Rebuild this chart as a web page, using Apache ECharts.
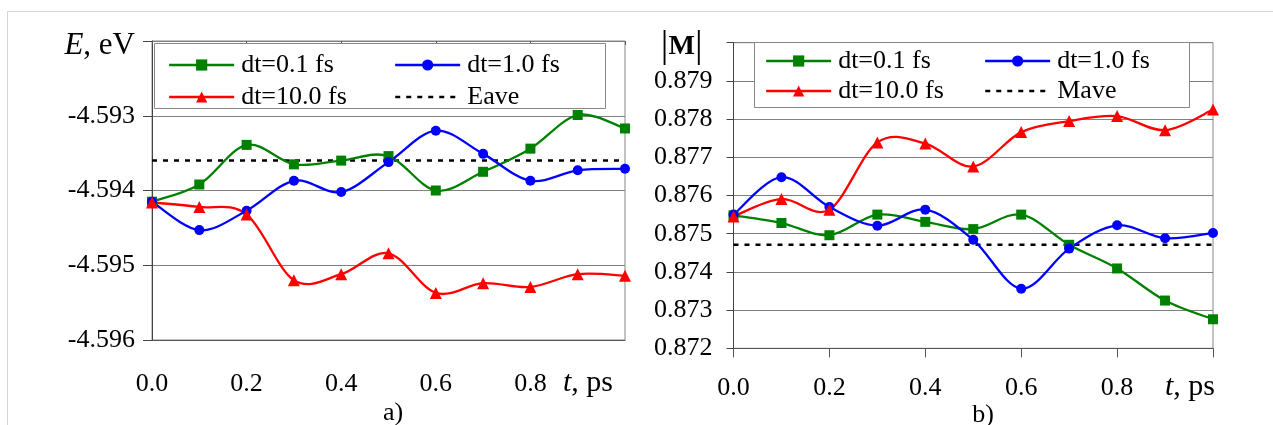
<!DOCTYPE html>
<html>
<head>
<meta charset="utf-8">
<script src="https://cdn.jsdelivr.net/npm/echarts@6/dist/echarts.min.js"></script>
<style>
html,body{margin:0;padding:0;background:#fff;}
#c{width:1273px;height:425px;}
</style>
</head>
<body>
<div id="c"></div>
<script>
// ---- data ----
var tValues = [0.0, 0.1, 0.2, 0.3, 0.4, 0.5, 0.6, 0.7, 0.8, 0.9, 1.0];
var xTickLabels = ['0.0', '0.2', '0.4', '0.6', '0.8'];
var seriesNames = ['dt=0.1 fs', 'dt=1.0 fs', 'dt=10.0 fs'];

// panel a) energy, eV
var E_dt01  = [-4.59415, -4.59392, -4.59339, -4.59365, -4.59360, -4.59354, -4.59400, -4.59375, -4.59344, -4.59299, -4.59317];
var E_dt10  = [-4.59415, -4.59453, -4.59427, -4.59387, -4.59402, -4.59362, -4.59320, -4.59351, -4.59387, -4.59373, -4.59371];
var E_dt100 = [-4.59416, -4.59422, -4.59432, -4.59520, -4.59512, -4.59484, -4.59537, -4.59524, -4.59529, -4.59512, -4.59514];
var Eave = -4.59360;
var E_ticks = ['-4.596', '-4.595', '-4.594', '-4.593'];

// panel b) |M|
var M_dt01  = [0.87548, 0.87528, 0.87496, 0.87550, 0.87531, 0.87512, 0.87550, 0.87471, 0.87409, 0.87325, 0.87276];
var M_dt10  = [0.87550, 0.87648, 0.87570, 0.87521, 0.87563, 0.87484, 0.87356, 0.87461, 0.87522, 0.87488, 0.87502];
var M_dt100 = [0.87545, 0.87591, 0.87563, 0.87739, 0.87736, 0.87676, 0.87766, 0.87795, 0.87808, 0.87771, 0.87825];
var Mave = 0.87471;
var M_ticks = ['0.872', '0.873', '0.874', '0.875', '0.876', '0.877', '0.878', '0.879'];

// ---- helpers ----
var FONT = 'Liberation Serif';
var COLORS = ['#008000', '#0000ff', '#ff0000'];
var SYMBOLS = ['rect', 'circle', 'triangle'];
var SIZES = [10, 10, 12];
var LW = 2.3;

function pairs(vals) { return vals.map(function (v, i) { return [tValues[i], v]; }); }

// marker series (also used for the legend)
function markers(name, vals, k, xi, yi) {
  return {
    type: 'line', name: name, xAxisIndex: xi, yAxisIndex: yi,
    data: pairs(vals),
    symbol: SYMBOLS[k], symbolSize: SIZES[k], showSymbol: true,
    itemStyle: { color: COLORS[k] },
    lineStyle: { color: COLORS[k], width: 0, opacity: 0 },
    z: 6, animation: false
  };
}
// smooth curve (Catmull-Rom style, like spreadsheet smoothing) through the axis scales
function smoothCurve(name, vals, k, xi, yi) {
  var data = pairs(vals);
  return {
    type: 'custom', name: name + ' curve', xAxisIndex: xi, yAxisIndex: yi,
    data: data, z: 5, animation: false, silent: true,
    renderItem: function (params, api) {
      if (params.dataIndex !== 0) return null;
      var p = data.map(function (d) { return api.coord(d); });
      var n = p.length;
      var s = 'M' + p[0][0] + ' ' + p[0][1];
      for (var i = 0; i < n - 1; i++) {
        var p0 = p[Math.max(i - 1, 0)], p1 = p[i], p2 = p[i + 1], p3 = p[Math.min(i + 2, n - 1)];
        var c1x = p1[0] + (p2[0] - p0[0]) / 6, c1y = p1[1] + (p2[1] - p0[1]) / 6;
        var c2x = p2[0] - (p3[0] - p1[0]) / 6, c2y = p2[1] - (p3[1] - p1[1]) / 6;
        s += ' C' + c1x + ' ' + c1y + ' ' + c2x + ' ' + c2y + ' ' + p2[0] + ' ' + p2[1];
      }
      return { type: 'path', shape: { pathData: s }, style: { stroke: COLORS[k], lineWidth: LW, fill: 'none' } };
    }
  };
}
function aveLine(name, v, xi, yi) {
  return {
    type: 'line', name: name, xAxisIndex: xi, yAxisIndex: yi,
    data: [[tValues[0], v], [tValues[tValues.length - 1], v]],
    symbol: 'none', itemStyle: { color: '#000' },
    lineStyle: { color: '#000', width: 2.5, type: [5, 6] },
    z: 4, animation: false
  };
}
function findTick(list, v) {
  for (var i = 0; i < list.length; i++) { if (Math.abs(parseFloat(list[i]) - v) < 1e-7) return list[i]; }
  return null;
}
var labelStyle = { fontFamily: FONT, fontSize: 26, color: '#000' };

function legendItem(name, left, top, isAve) {
  return {
    data: [name], left: left, top: top, orient: 'horizontal', padding: 0,
    itemWidth: 65, itemHeight: 14, itemGap: 0,
    lineStyle: isAve ? { width: 2.5, opacity: 1 } : { width: LW, opacity: 1 },
    itemStyle: isAve ? { opacity: 0 } : {},
    textStyle: { fontFamily: FONT, fontSize: 26, color: '#000', padding: [0, 0, 0, 2] },
    selectedMode: false, z: 10
  };
}
var nameRich = {
  i: { fontFamily: FONT, fontSize: 30, fontStyle: 'italic', color: '#000' },
  n: { fontFamily: FONT, fontSize: 30, color: '#000' }
};

var option = {
  animation: false,
  backgroundColor: '#fff',
  grid: [
    { left: 152, top: 41, width: 473, height: 299, show: true, borderColor: '#888', borderWidth: 1, containLabel: false },
    { left: 733.5, top: 42.7, width: 479.5, height: 305.6, show: true, borderColor: '#888', borderWidth: 1, containLabel: false }
  ],
  title: [
    { text: 'a)', left: 388, top: 395, textAlign: 'center', textStyle: { fontFamily: FONT, fontSize: 26, fontWeight: 'normal', color: '#000' } },
    { text: 'b)', left: 978, top: 397, textAlign: 'center', textStyle: { fontFamily: FONT, fontSize: 26, fontWeight: 'normal', color: '#000' } }
  ],
  xAxis: [
    {
      type: 'value', gridIndex: 0, min: 0, max: 1, interval: 0.2,
      axisLine: { show: true, lineStyle: { color: '#555', width: 1 } },
      axisTick: { show: false },
      splitLine: { show: false },
      axisLabel: Object.assign({ margin: 31, formatter: function (v) { return findTick(xTickLabels, v) || ''; } }, labelStyle),
      name: '{i|t}{n|, ps}', nameLocation: 'end', nameGap: -12,
      nameTextStyle: { align: 'right', verticalAlign: 'top', padding: [28, 0, 0, 0], rich: nameRich }
    },
    {
      type: 'value', gridIndex: 0, min: 0, max: 1, interval: 0.2, position: 'top',
      axisLine: { show: false }, axisLabel: { show: false }, splitLine: { show: false },
      axisTick: { show: true, inside: true, length: 4, lineStyle: { color: '#555' } }
    },
    {
      type: 'value', gridIndex: 1, min: 0, max: 1, interval: 0.2,
      axisLine: { show: true, lineStyle: { color: '#555', width: 1 } },
      axisTick: { show: true, inside: false, length: 9, lineStyle: { color: '#555' } },
      splitLine: { show: false },
      axisLabel: Object.assign({ margin: 27, formatter: function (v) { return findTick(xTickLabels, v) || ''; } }, labelStyle),
      name: '{i|t}{n|, ps}', nameLocation: 'end', nameGap: 2,
      nameTextStyle: { align: 'right', verticalAlign: 'top', padding: [24, 0, 0, 0], rich: nameRich }
    }
  ],
  yAxis: [
    {
      type: 'value', gridIndex: 0, min: -4.596, max: -4.592, interval: 0.001,
      axisLine: { show: true, lineStyle: { color: '#444', width: 1 } },
      axisTick: { show: true, inside: false, length: 9, lineStyle: { color: '#444' } },
      splitLine: { show: true, lineStyle: { color: '#808080', width: 1 } },
      axisLabel: Object.assign({ margin: 17, formatter: function (v) {
        var t = findTick(E_ticks, v);
        if (t) return t;
        if (Math.abs(v + 4.592) < 1e-7) return '{e|E}{n|, eV}';
        return '';
      }, rich: {
        e: { fontFamily: FONT, fontSize: 31, fontStyle: 'italic', color: '#000', padding: [10, 0, 0, 0] },
        n: { fontFamily: FONT, fontSize: 31, color: '#000', padding: [10, 0, 0, 0] }
      } }, labelStyle)
    },
    {
      type: 'value', gridIndex: 1, min: 0.872, max: 0.880, interval: 0.001,
      axisLine: { show: true, lineStyle: { color: '#444', width: 1 } },
      axisTick: { show: true, inside: false, length: 7, lineStyle: { color: '#444' } },
      splitLine: { show: true, lineStyle: { color: '#808080', width: 1 } },
      axisLabel: Object.assign({ margin: 21, formatter: function (v) {
        var t = findTick(M_ticks, v);
        if (t) return t;
        if (Math.abs(v - 0.880) < 1e-7) return '{b||}{m|M}{b||}{p|}';
        return '';
      }, rich: {
        b: { fontFamily: FONT, fontSize: 38, color: '#000', padding: [8, 0, 0, 0] },
        m: { fontFamily: FONT, fontSize: 28, fontWeight: 'bold', color: '#000', padding: [8, 0, 0, 0] },
        p: { width: 10 }
      } }, labelStyle)
    }
  ],
  legend: [
    legendItem(seriesNames[0], 168, 52),
    legendItem(seriesNames[1], 394, 52),
    legendItem(seriesNames[2], 168, 84),
    legendItem('Eave', 394, 84, true),
    legendItem(seriesNames[0], 765, 48),
    legendItem(seriesNames[1], 984, 48),
    legendItem(seriesNames[2], 765, 78),
    legendItem('Mave', 984, 78, true)
  ],
  graphic: [
    { type: 'polyline', shape: { points: [[7.5, 425], [7.5, 11.5], [1273, 11.5]] }, style: { stroke: '#d4d4d4', lineWidth: 1, fill: null }, z: 1, silent: true },
    { type: 'rect', shape: { x: 154.5, y: 43.5, width: 451, height: 65 }, style: { fill: '#fff', stroke: '#888', lineWidth: 1 }, z: 3, silent: true },
    { type: 'rect', shape: { x: 754.5, y: 42.5, width: 435, height: 65 }, style: { fill: '#fff', stroke: '#888', lineWidth: 1 }, z: 3, silent: true }
  ],
  series: [
    smoothCurve(seriesNames[0], E_dt01, 0, 0, 0),
    smoothCurve(seriesNames[1], E_dt10, 1, 0, 0),
    smoothCurve(seriesNames[2], E_dt100, 2, 0, 0),
    markers(seriesNames[0], E_dt01, 0, 0, 0),
    markers(seriesNames[1], E_dt10, 1, 0, 0),
    markers(seriesNames[2], E_dt100, 2, 0, 0),
    aveLine('Eave', Eave, 0, 0),
    smoothCurve(seriesNames[0], M_dt01, 0, 2, 1),
    smoothCurve(seriesNames[1], M_dt10, 1, 2, 1),
    smoothCurve(seriesNames[2], M_dt100, 2, 2, 1),
    markers(seriesNames[0], M_dt01, 0, 2, 1),
    markers(seriesNames[1], M_dt10, 1, 2, 1),
    markers(seriesNames[2], M_dt100, 2, 2, 1),
    aveLine('Mave', Mave, 2, 1)
  ]
};
var chart = echarts.init(document.getElementById('c'), null, { renderer: 'canvas' });
chart.setOption(option);
</script>
</body>
</html>
